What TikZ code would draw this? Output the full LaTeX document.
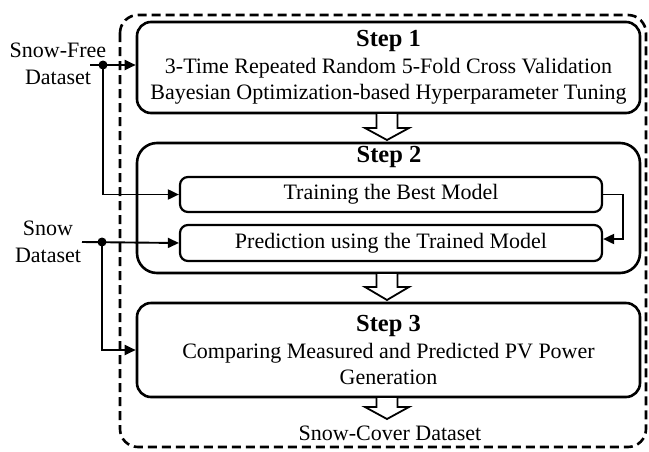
\documentclass[tikz,border=0pt]{standalone}
\usepackage{fontspec}
\setmainfont{Liberation Serif}
\usetikzlibrary{arrows.meta,calc}
\newcommand\hollowarr[4]{%
  \fill[white] ({#1-10.5},#2) -- ({#1-10.5},#3) -- ({#1-22},#3) -- (#1,#4) -- ({#1+22},#3) -- ({#1+10.5},#3) -- ({#1+10.5},#2) -- cycle;
  \draw[line width=1.8pt, line join=miter] ({#1-10.5},#2) -- ({#1-10.5},#3) -- ({#1-22},#3) -- (#1,#4) -- ({#1+22},#3) -- ({#1+10.5},#3) -- ({#1+10.5},#2);}
\newcommand\steptitle[1]{{\fontsize{24.5}{26.5}\selectfont\bfseries #1}}
\begin{document}
\begin{tikzpicture}[x=1pt,y=-1pt,
  font=\fontsize{22}{26.5}\selectfont,
  bigbox/.style={draw, line width=2.6pt, rounded corners=14pt, inner sep=0pt, align=center, minimum width=503pt},
  subbox/.style={draw, line width=2.2pt, rounded corners=8pt, inner sep=0pt, align=center, minimum width=422pt},
  label/.style={align=center, inner sep=0pt},
  conn/.style={line width=1.9pt},
  tip/.style={-{Triangle[length=11pt,width=10pt]}}]
\useasboundingbox (0,0) rectangle (649,451);
% dashed frame
\draw[line width=2.6pt, dash pattern=on 9pt off 5pt, rounded corners=18pt] (120,15) rectangle (646,447);
% step boxes
\node[bigbox, minimum height=91pt] (s1) at (388.5,67.5) {\steptitle{Step 1}\\3-Time Repeated Random 5-Fold Cross Validation\\Bayesian Optimization-based Hyperparameter Tuning};
\node[bigbox, rounded corners=20pt, minimum height=130pt] (s2) at (388.5,208) {};
\node[label] (s2t) at (389,157) {\steptitle{Step 2}};
\node[subbox, minimum height=35pt] (train) at (391,194.5) {Training the Best Model};
\node[subbox, minimum height=36pt] (pred) at (391,243) {Prediction using the Trained Model};
\node[bigbox, minimum height=94pt] (s3) at (388.5,350) {\steptitle{Step 3}\\Comparing Measured and Predicted PV Power\\Generation};
\node[label] (out) at (390,433) {Snow-Cover Dataset};
% inputs
\node[label] (sf) at (58,64) {Snow-Free\\Dataset};
\node[label] (sn) at (48,242) {Snow\\Dataset};
\coordinate (sf0) at (90,65);
\coordinate (d1) at (103,65);
\coordinate (sn0) at (82,242);
\coordinate (d2) at (102,242);
\draw[conn,tip] (sf0) -- (sf0 -| s1.west);
\draw[conn,tip] (d1) |- (train.west);
\fill (d1) circle[radius=4.5pt];
\draw[conn,tip] (sn0) -- (pred.west);
\draw[conn,tip] (d2) |- (s3.west);
\fill (d2) circle[radius=4.5pt];
\draw[conn,tip] (train.east) -- ++(20,0) |- ($(pred.east)+(0,-4)$);
% hollow arrows
\hollowarr{387}{114}{128}{140}
\hollowarr{387}{274}{287}{300}
\hollowarr{387}{398}{407}{419}
\end{tikzpicture}
\end{document}
